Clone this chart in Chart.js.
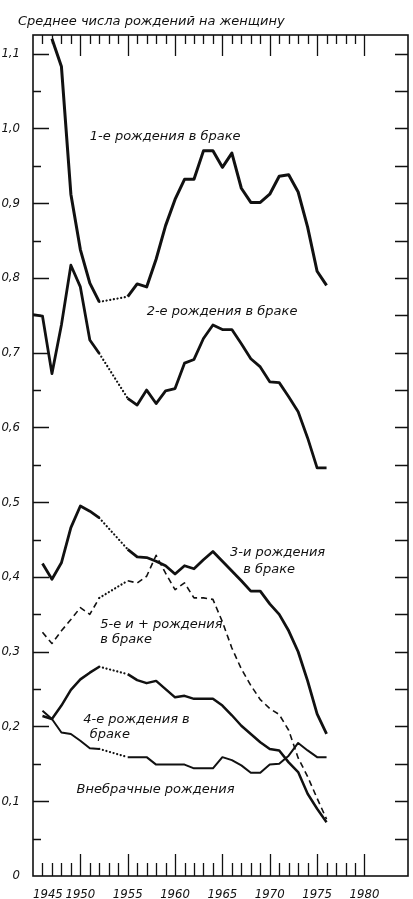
<!DOCTYPE html>
<html>
<head>
<meta charset="utf-8">
<script src="https://cdn.jsdelivr.net/npm/chart.js@4.4.1/dist/chart.umd.min.js"></script>
<style>
  html, body { margin: 0; padding: 0; background: #fff; }
  #wrap { width: 413px; height: 899px; }
</style>
</head>
<body>
<div id="wrap"><canvas id="chart"></canvas></div>
<script>
// years 1945..1976, null = no value (the dotted stretch 1952-1955)
const years = [1945, 1946, 1947, 1948, 1949, 1950, 1951, 1952, 1953, 1954, 1955, 1956, 1957, 1958, 1959, 1960,
               1961, 1962, 1963, 1964, 1965, 1966, 1967, 1968, 1969, 1970, 1971, 1972, 1973, 1974, 1975, 1976];

const firstBirths = [null, null, 1.12, 1.083, 0.912, 0.838, 0.793, 0.768, null, null, 0.775, 0.792, 0.788, 0.825, 0.870, 0.905,
                     0.932, 0.932, 0.970, 0.970, 0.948, 0.967, 0.920, 0.901, 0.901, 0.912, 0.936, 0.938, 0.915, 0.868, 0.809, 0.790];
const secondBirths = [0.751, 0.749, 0.672, 0.737, 0.817, 0.788, 0.717, 0.699, null, null, 0.639, 0.630, 0.650, 0.632, 0.649, 0.652,
                      0.686, 0.691, 0.719, 0.737, 0.731, 0.731, 0.712, 0.692, 0.681, 0.661, 0.660, 0.641, 0.621, 0.586, 0.546, 0.546];
const thirdBirths = [null, 0.418, 0.397, 0.419, 0.466, 0.495, 0.488, 0.479, null, null, 0.437, 0.427, 0.426, 0.421, 0.415, 0.404,
                     0.415, 0.411, 0.423, 0.434, 0.421, 0.408, 0.395, 0.381, 0.381, 0.364, 0.350, 0.328, 0.300, 0.261, 0.217, 0.190];
const fifthPlusBirths = [null, 0.326, 0.311, 0.328, 0.343, 0.359, 0.350, 0.372, null, null, 0.395, 0.392, 0.401, 0.429, 0.405, 0.383,
                         0.392, 0.372, 0.372, 0.370, 0.340, 0.305, 0.277, 0.255, 0.236, 0.224, 0.216, 0.195, 0.158, 0.133, 0.104, 0.076];
const fourthBirths = [null, 0.214, 0.210, 0.228, 0.249, 0.263, 0.272, 0.280, null, null, 0.270, 0.262, 0.258, 0.261, 0.250, 0.239,
                      0.241, 0.237, 0.237, 0.237, 0.228, 0.215, 0.201, 0.190, 0.179, 0.170, 0.168, 0.152, 0.139, 0.110, 0.090, 0.072];
const nonMarital = [null, 0.221, 0.210, 0.192, 0.190, 0.181, 0.171, 0.170, null, null, 0.159, 0.159, 0.159, 0.149, 0.149, 0.149,
                    0.149, 0.144, 0.144, 0.144, 0.159, 0.155, 0.148, 0.138, 0.138, 0.149, 0.150, 0.161, 0.178, 0.168, 0.159, 0.159];

const xTickValues = [1945, 1950, 1955, 1960, 1965, 1970, 1975, 1980];
const xTickLabels = ['1945', '1950', '1955', '1960', '1965', '1970', '1975', '1980'];
const yTickValues = [0, 0.1, 0.2, 0.3, 0.4, 0.5, 0.6, 0.7, 0.8, 0.9, 1.0, 1.1];
const yTickLabels = ['0', '0,1', '0,2', '0,3', '0,4', '0,5', '0,6', '0,7', '0,8', '0,9', '1,0', '1,1'];

const yTitle = 'Среднее числа рождений на женщину';
// text labels: [text, year, value] of the left end of the baseline
const notes = [
    ['1-е рождения в браке', 1951.0, 0.985],
    ['2-е рождения в браке', 1957.0, 0.751],
    ['3-и рождения', 1965.8, 0.428],
    ['в браке', 1967.2, 0.405],
    ['5-е и + рождения', 1952.1, 0.332],
    ['в браке', 1952.1, 0.312],
    ['4-е рождения в', 1950.3, 0.205],
    ['браке', 1951.0, 0.185],
    ['Внебрачные рождения', 1949.6, 0.111]
];

const INK = '#111';
const textFont = "italic 13px 'DejaVu Sans', sans-serif";
const tickFont = { family: "'Liberation Sans Narrow', 'DejaVu Sans Condensed', sans-serif", size: 13, style: 'italic' };

const toPoints = (vals) => years.map((y, i) => ({ x: y, y: vals[i] }));
const gap = (ctx, v) => (ctx.p0.skip || ctx.p1.skip) ? v : undefined;

function line(vals, width, dash) {
    return {
        data: toPoints(vals),
        borderColor: INK,
        borderWidth: width,
        borderDash: dash || [],
        pointRadius: 0,
        tension: 0,
        spanGaps: true,
        borderJoinStyle: 'round',
        segment: {
            borderDash: ctx => gap(ctx, [0.1, 3.6]),
            borderCapStyle: ctx => gap(ctx, 'round'),
            borderWidth: ctx => gap(ctx, 2.2)
        }
    };
}

const framePlugin = {
    id: 'frame',
    afterDatasetsDraw(chart) {
        const ctx = chart.ctx;
        const xs = chart.scales.x, ys = chart.scales.y;
        const a = chart.chartArea;
        ctx.save();
        ctx.strokeStyle = INK;
        ctx.lineWidth = 1.6;
        ctx.strokeRect(a.left, a.top, a.right - a.left, a.bottom - a.top);

        ctx.lineWidth = 1.3;
        ctx.beginPath();
        for (let k = 1; k <= 22; k++) {
            const y = Math.round(ys.getPixelForValue(k * 0.05)) + 0.5;
            const len = k % 2 === 0 ? 16 : 8;
            ctx.moveTo(a.left, y); ctx.lineTo(a.left + len, y);
            ctx.moveTo(a.right, y); ctx.lineTo(a.right - 13, y);
        }
        for (let yr = 1946; yr <= 1980; yr++) {
            const x = Math.round(xs.getPixelForValue(yr)) + 0.5;
            const major = yr % 5 === 0;
            ctx.moveTo(x, a.bottom); ctx.lineTo(x, a.bottom - (major ? 22 : 13));
            ctx.moveTo(x, a.top); ctx.lineTo(x, a.top + (major ? 21 : 9));
        }
        ctx.stroke();

        ctx.fillStyle = INK;
        ctx.font = textFont;
        ctx.textBaseline = 'alphabetic';
        ctx.textAlign = 'left';
        notes.forEach(([t, yr, v]) => {
            ctx.fillText(t, xs.getPixelForValue(yr), ys.getPixelForValue(v));
        });
        ctx.fillText(yTitle, a.left - 15, a.top - 10);
        ctx.restore();
    }
};

new Chart(document.getElementById('chart'), {
    type: 'line',
    data: {
        datasets: [
            line(firstBirths, 3),
            line(secondBirths, 2.8),
            line(thirdBirths, 2.8),
            line(fifthPlusBirths, 1.6, [6, 4]),
            line(fourthBirths, 2.5),
            line(nonMarital, 2)
        ]
    },
    options: {
        responsive: true,
        maintainAspectRatio: false,
        animation: false,
        layout: { padding: { top: 35, right: 5, left: 0, bottom: 0 } },
        scales: {
            x: {
                type: 'linear',
                min: 1945,
                max: 1984.6,
                grid: { display: false },
                border: { display: false },
                afterBuildTicks: s => { s.ticks = xTickValues.map(v => ({ value: v })).concat([{ value: s.max }]); },
                afterFit: s => { s.height = 23; },
                ticks: {
                    autoSkip: false,
                    maxRotation: 0,
                    align: 'inner',
                    padding: 3,
                    color: INK,
                    font: tickFont,
                    callback: (v, i) => xTickLabels[i] || ''
                }
            },
            y: {
                min: 0,
                max: 1.125,
                grid: { display: false },
                border: { display: false },
                afterBuildTicks: s => { s.ticks = yTickValues.map(v => ({ value: v })); },
                afterFit: s => { s.width = 33; },
                ticks: {
                    autoSkip: false,
                    padding: 5,
                    color: INK,
                    font: tickFont,
                    callback: (v, i) => yTickLabels[i]
                }
            }
        },
        plugins: {
            legend: { display: false },
            title: { display: false },
            tooltip: { enabled: false }
        }
    },
    plugins: [framePlugin]
});
</script>
</body>
</html>
